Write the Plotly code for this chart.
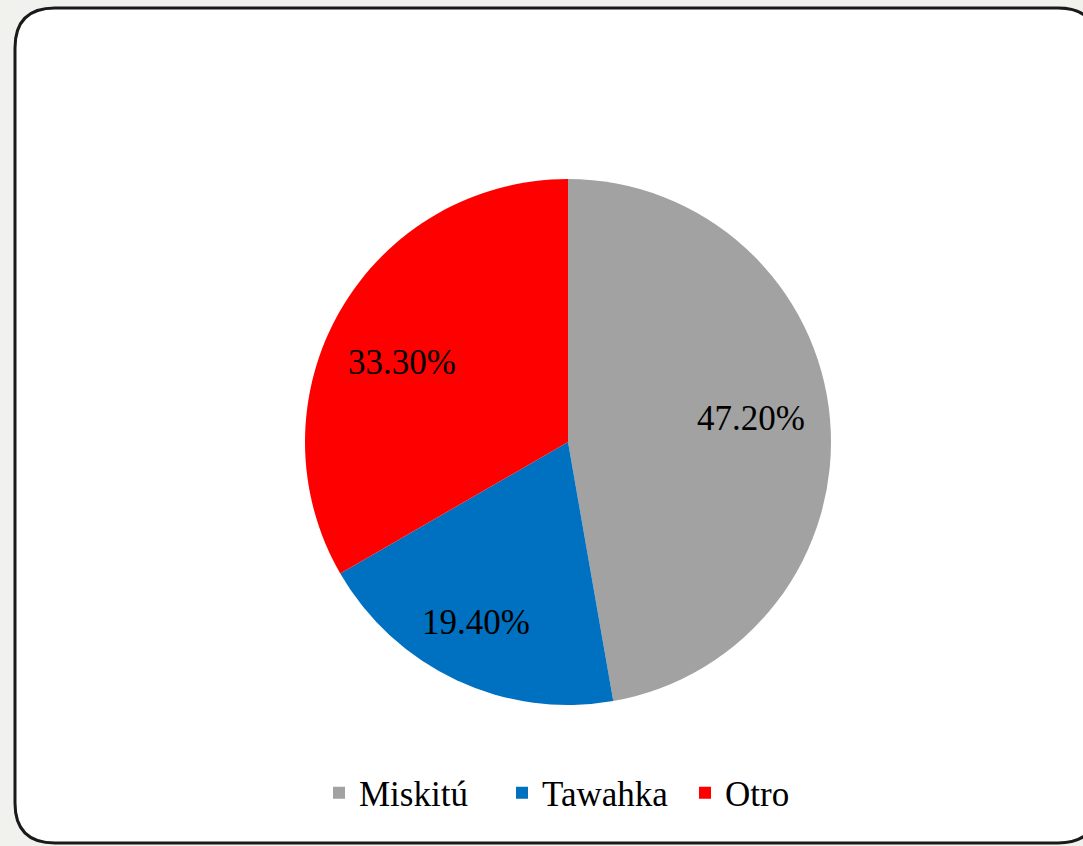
import math
import plotly.graph_objects as go

W, H = 1083, 846

categories = ["Miskitú", "Tawahka", "Otro"]
values = [47.2, 19.4, 33.3]
colors = ["#a2a2a2", "#0070c0", "#ff0000"]

def px(x):
    return x / W

def py(y):
    return 1 - y / H

# pie geometry (pixels)
cx, cy, r = 568, 442, 263

fig = go.Figure()
fig.add_trace(go.Pie(
    labels=categories,
    values=values,
    marker=dict(colors=colors, line=dict(color="white", width=0)),
    sort=False,
    direction="clockwise",
    rotation=0,
    textinfo="none",
    domain=dict(x=[px(cx - r), px(cx + r)], y=[py(cy + r), py(cy - r)]),
    hoverinfo="label+percent",
))

# data labels placed along each slice's bisector (computed from values)
total = sum(values)
start = 0.0
label_frac = [0.70, 0.77, 0.70]
label_shift = [-2.5, 2, -4.3]  # small angular offsets (deg) to mimic best-fit placement
for v, f, s in zip(values, label_frac, label_shift):
    mid = start + v / total * 360 / 2 + s
    start += v / total * 360
    a = math.radians(mid)
    lx = cx + f * r * math.sin(a)
    ly = cy - f * r * math.cos(a)
    fig.add_annotation(
        x=px(lx), y=py(ly), xref="paper", yref="paper",
        text=f"{v:.2f}%", showarrow=False,
        xanchor="center", yanchor="middle",
        font=dict(family="Liberation Serif", size=35, color="black"),
    )

# rounded frame
x0, y0, x1, y1, rr = 15, 8, 1098, 843, 40
path = (
    f"M {px(x0+rr)},{py(y0)} L {px(x1-rr)},{py(y0)} "
    f"Q {px(x1)},{py(y0)} {px(x1)},{py(y0+rr)} "
    f"L {px(x1)},{py(y1-rr)} Q {px(x1)},{py(y1)} {px(x1-rr)},{py(y1)} "
    f"L {px(x0+rr)},{py(y1)} Q {px(x0)},{py(y1)} {px(x0)},{py(y1-rr)} "
    f"L {px(x0)},{py(y0+rr)} Q {px(x0)},{py(y0)} {px(x0+rr)},{py(y0)} Z"
)
fig.add_shape(type="path", path=path, xref="paper", yref="paper",
              fillcolor="white", line=dict(color="#1a1a1a", width=3), layer="below")

fig.update_layout(
    width=W, height=H,
    margin=dict(l=0, r=0, t=0, b=0),
    paper_bgcolor="#f1f2ee",
    plot_bgcolor="white",
    showlegend=True,
    legend=dict(
        orientation="h",
        x=px(319), xanchor="left",
        y=py(793), yanchor="middle",
        font=dict(family="Liberation Serif", size=35, color="black"),
        bgcolor="rgba(0,0,0,0)",
        itemwidth=30,
        entrywidth=138,
        entrywidthmode="pixels",
        traceorder="normal",
    ),
)

fig.write_html(
    "out.html",
    config={"displayModeBar": False},
    post_script="document.body.style.margin='0';document.body.style.overflow='hidden';",
)
